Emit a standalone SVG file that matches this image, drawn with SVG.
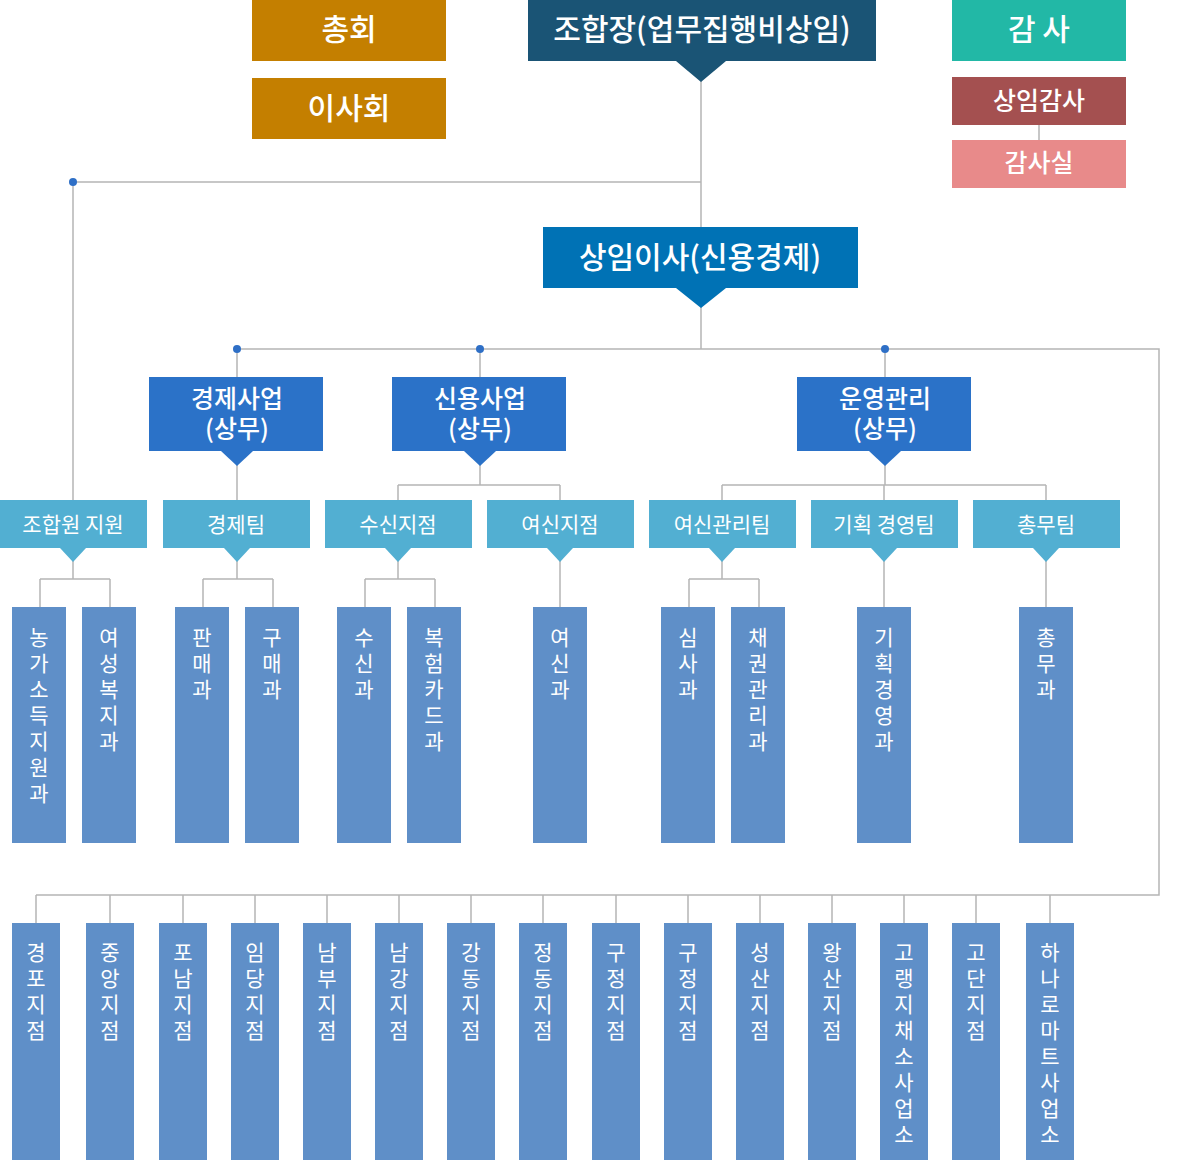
<svg xmlns="http://www.w3.org/2000/svg" width="1200" height="1160" viewBox="0 0 1200 1160">
<style>
text{font-family:"Noto Sans CJK KR","Noto Sans",sans-serif;fill:#fff;text-anchor:middle}
.t1{font-size:30px;font-weight:500}
.t2{font-size:25px;font-weight:500}
.t3{font-size:21px}
.v{font-size:21px}
.ln{stroke:#b5b5b5;stroke-width:1.5;fill:none}
.dot{fill:#2e6fc6}
.sk{fill:#5f8fc8}
.lb{fill:#52afd2}
.mb{fill:#2b72c8}
</style>
<rect width="1200" height="1160" fill="#fff"/>
<g id="connectors">
<path class="ln" d="M701 80V227M73 182H701M73 182V500M701 306V349M237 349H1159V895H36M237 349V377M480 349V377M885 349V377M237 464V500M480 464V485M398 485H560M398 485V500M560 485V500M885 464V485M722 485H1046M722 485V500M884 485V500M1046 485V500
M73 560V579M40 579H110M40 579V607M110 579V607
M237 560V579M203 579H273M203 579V607M273 579V607
M398 560V579M365 579H435M365 579V607M435 579V607
M560 560V607
M722 560V579M689 579H759M689 579V607M759 579V607
M884 560V607M1046 560V607
M36 895V923M110 895V923M183 895V923M255 895V923M327 895V923M399 895V923M471 895V923M543 895V923M616 895V923M688 895V923M760 895V923M832 895V923M904 895V923M976 895V923M1050 895V923M1159 349V895"/>
<circle class="dot" cx="73" cy="182" r="4"/><circle class="dot" cx="237" cy="349" r="4"/><circle class="dot" cx="480" cy="349" r="4"/><circle class="dot" cx="885" cy="349" r="4"/>
<path class="ln" d="M1039 125V140"/>
</g>
<g id="n-chonghoe"><rect x="252" y="0" width="194" height="61" fill="#c47f00"/><text class="t1" x="349" y="40">총회</text></g>
<g id="n-isahoe"><rect x="252" y="78" width="194" height="61" fill="#c47f00"/><text class="t1" x="349" y="119">이사회</text></g>
<g id="n-johapjang"><rect x="528" y="0" width="348" height="61" fill="#1a5475"/><path d="M676 61L701 82L726 61Z" fill="#1a5475"/><text class="t1" x="702" y="40">조합장(업무집행비상임)</text></g>
<g id="n-gamsa"><rect x="952" y="0" width="174" height="61" fill="#22b8a6"/><text class="t1" x="1039" y="40">감 사</text></g>
<g id="n-sangimgamsa"><rect x="952" y="77" width="174" height="48" fill="#a45050"/><text class="t2" x="1039" y="110">상임감사</text></g>
<g id="n-gamsasil"><rect x="952" y="140" width="174" height="48" fill="#e88a8a"/><text class="t2" x="1039" y="172">감사실</text></g>
<g id="n-sangimisa"><rect x="543" y="227" width="315" height="61" fill="#0072b5"/><path d="M676 288L701 308L726 288Z" fill="#0072b5"/><text class="t1" x="700" y="268">상임이사(신용경제)</text></g>
<g id="n-gyeongje"><rect class="mb" x="149" y="377" width="174" height="74"/><path class="mb" d="M221 451L237 466L253 451Z"/><text class="t2" x="237" y="408">경제사업</text><text class="t2" x="237" y="438">(상무)</text></g>
<g id="n-sinyong"><rect class="mb" x="392" y="377" width="174" height="74"/><path class="mb" d="M464 451L480 466L496 451Z"/><text class="t2" x="480" y="408">신용사업</text><text class="t2" x="480" y="438">(상무)</text></g>
<g id="n-unyeong"><rect class="mb" x="797" y="377" width="174" height="74"/><path class="mb" d="M869 451L885 466L901 451Z"/><text class="t2" x="885" y="408">운영관리</text><text class="t2" x="885" y="438">(상무)</text></g>
<g id="n-l1"><rect class="lb" x="0" y="500" width="147" height="48"/><path class="lb" d="M60 548L73 562L86 548Z"/><text class="t3" x="73" y="532">조합원 지원</text></g>
<g id="n-l2"><rect class="lb" x="163" y="500" width="147" height="48"/><path class="lb" d="M224 548L237 562L250 548Z"/><text class="t3" x="236" y="532">경제팀</text></g>
<g id="n-l3"><rect class="lb" x="325" y="500" width="147" height="48"/><path class="lb" d="M385 548L398 562L411 548Z"/><text class="t3" x="398" y="532">수신지점</text></g>
<g id="n-l4"><rect class="lb" x="487" y="500" width="147" height="48"/><path class="lb" d="M547 548L560 562L573 548Z"/><text class="t3" x="560" y="532">여신지점</text></g>
<g id="n-l5"><rect class="lb" x="649" y="500" width="147" height="48"/><path class="lb" d="M709 548L722 562L735 548Z"/><text class="t3" x="722" y="532">여신관리팀</text></g>
<g id="n-l6"><rect class="lb" x="811" y="500" width="147" height="48"/><path class="lb" d="M871 548L884 562L897 548Z"/><text class="t3" x="884" y="532">기획 경영팀</text></g>
<g id="n-l7"><rect class="lb" x="973" y="500" width="147" height="48"/><path class="lb" d="M1033 548L1046 562L1059 548Z"/><text class="t3" x="1046" y="532">총무팀</text></g>
<g id="n-m1"><rect class="sk" x="12" y="607" width="54" height="236"/><text class="v" x="39" y="645"><tspan x="39">농</tspan><tspan x="39" dy="26">가</tspan><tspan x="39" dy="26">소</tspan><tspan x="39" dy="26">득</tspan><tspan x="39" dy="26">지</tspan><tspan x="39" dy="26">원</tspan><tspan x="39" dy="26">과</tspan></text></g>
<g id="n-m2"><rect class="sk" x="82" y="607" width="54" height="236"/><text class="v" x="109" y="645"><tspan x="109">여</tspan><tspan x="109" dy="26">성</tspan><tspan x="109" dy="26">복</tspan><tspan x="109" dy="26">지</tspan><tspan x="109" dy="26">과</tspan></text></g>
<g id="n-m3"><rect class="sk" x="175" y="607" width="54" height="236"/><text class="v" x="202" y="645"><tspan x="202">판</tspan><tspan x="202" dy="26">매</tspan><tspan x="202" dy="26">과</tspan></text></g>
<g id="n-m4"><rect class="sk" x="245" y="607" width="54" height="236"/><text class="v" x="272" y="645"><tspan x="272">구</tspan><tspan x="272" dy="26">매</tspan><tspan x="272" dy="26">과</tspan></text></g>
<g id="n-m5"><rect class="sk" x="337" y="607" width="54" height="236"/><text class="v" x="364" y="645"><tspan x="364">수</tspan><tspan x="364" dy="26">신</tspan><tspan x="364" dy="26">과</tspan></text></g>
<g id="n-m6"><rect class="sk" x="407" y="607" width="54" height="236"/><text class="v" x="434" y="645"><tspan x="434">복</tspan><tspan x="434" dy="26">험</tspan><tspan x="434" dy="26">카</tspan><tspan x="434" dy="26">드</tspan><tspan x="434" dy="26">과</tspan></text></g>
<g id="n-m7"><rect class="sk" x="533" y="607" width="54" height="236"/><text class="v" x="560" y="645"><tspan x="560">여</tspan><tspan x="560" dy="26">신</tspan><tspan x="560" dy="26">과</tspan></text></g>
<g id="n-m8"><rect class="sk" x="661" y="607" width="54" height="236"/><text class="v" x="688" y="645"><tspan x="688">심</tspan><tspan x="688" dy="26">사</tspan><tspan x="688" dy="26">과</tspan></text></g>
<g id="n-m9"><rect class="sk" x="731" y="607" width="54" height="236"/><text class="v" x="758" y="645"><tspan x="758">채</tspan><tspan x="758" dy="26">권</tspan><tspan x="758" dy="26">관</tspan><tspan x="758" dy="26">리</tspan><tspan x="758" dy="26">과</tspan></text></g>
<g id="n-m10"><rect class="sk" x="857" y="607" width="54" height="236"/><text class="v" x="884" y="645"><tspan x="884">기</tspan><tspan x="884" dy="26">획</tspan><tspan x="884" dy="26">경</tspan><tspan x="884" dy="26">영</tspan><tspan x="884" dy="26">과</tspan></text></g>
<g id="n-m11"><rect class="sk" x="1019" y="607" width="54" height="236"/><text class="v" x="1046" y="645"><tspan x="1046">총</tspan><tspan x="1046" dy="26">무</tspan><tspan x="1046" dy="26">과</tspan></text></g>
<g id="n-b1"><rect class="sk" x="12" y="923" width="48" height="237"/><text class="v" x="36" y="960"><tspan x="36">경</tspan><tspan x="36" dy="26">포</tspan><tspan x="36" dy="26">지</tspan><tspan x="36" dy="26">점</tspan></text></g>
<g id="n-b2"><rect class="sk" x="86" y="923" width="48" height="237"/><text class="v" x="110" y="960"><tspan x="110">중</tspan><tspan x="110" dy="26">앙</tspan><tspan x="110" dy="26">지</tspan><tspan x="110" dy="26">점</tspan></text></g>
<g id="n-b3"><rect class="sk" x="159" y="923" width="48" height="237"/><text class="v" x="183" y="960"><tspan x="183">포</tspan><tspan x="183" dy="26">남</tspan><tspan x="183" dy="26">지</tspan><tspan x="183" dy="26">점</tspan></text></g>
<g id="n-b4"><rect class="sk" x="231" y="923" width="48" height="237"/><text class="v" x="255" y="960"><tspan x="255">임</tspan><tspan x="255" dy="26">당</tspan><tspan x="255" dy="26">지</tspan><tspan x="255" dy="26">점</tspan></text></g>
<g id="n-b5"><rect class="sk" x="303" y="923" width="48" height="237"/><text class="v" x="327" y="960"><tspan x="327">남</tspan><tspan x="327" dy="26">부</tspan><tspan x="327" dy="26">지</tspan><tspan x="327" dy="26">점</tspan></text></g>
<g id="n-b6"><rect class="sk" x="375" y="923" width="48" height="237"/><text class="v" x="399" y="960"><tspan x="399">남</tspan><tspan x="399" dy="26">강</tspan><tspan x="399" dy="26">지</tspan><tspan x="399" dy="26">점</tspan></text></g>
<g id="n-b7"><rect class="sk" x="447" y="923" width="48" height="237"/><text class="v" x="471" y="960"><tspan x="471">강</tspan><tspan x="471" dy="26">동</tspan><tspan x="471" dy="26">지</tspan><tspan x="471" dy="26">점</tspan></text></g>
<g id="n-b8"><rect class="sk" x="519" y="923" width="48" height="237"/><text class="v" x="543" y="960"><tspan x="543">정</tspan><tspan x="543" dy="26">동</tspan><tspan x="543" dy="26">지</tspan><tspan x="543" dy="26">점</tspan></text></g>
<g id="n-b9"><rect class="sk" x="592" y="923" width="48" height="237"/><text class="v" x="616" y="960"><tspan x="616">구</tspan><tspan x="616" dy="26">정</tspan><tspan x="616" dy="26">지</tspan><tspan x="616" dy="26">점</tspan></text></g>
<g id="n-b10"><rect class="sk" x="664" y="923" width="48" height="237"/><text class="v" x="688" y="960"><tspan x="688">구</tspan><tspan x="688" dy="26">정</tspan><tspan x="688" dy="26">지</tspan><tspan x="688" dy="26">점</tspan></text></g>
<g id="n-b11"><rect class="sk" x="736" y="923" width="48" height="237"/><text class="v" x="760" y="960"><tspan x="760">성</tspan><tspan x="760" dy="26">산</tspan><tspan x="760" dy="26">지</tspan><tspan x="760" dy="26">점</tspan></text></g>
<g id="n-b12"><rect class="sk" x="808" y="923" width="48" height="237"/><text class="v" x="832" y="960"><tspan x="832">왕</tspan><tspan x="832" dy="26">산</tspan><tspan x="832" dy="26">지</tspan><tspan x="832" dy="26">점</tspan></text></g>
<g id="n-b13"><rect class="sk" x="880" y="923" width="48" height="237"/><text class="v" x="904" y="960"><tspan x="904">고</tspan><tspan x="904" dy="26">랭</tspan><tspan x="904" dy="26">지</tspan><tspan x="904" dy="26">채</tspan><tspan x="904" dy="26">소</tspan><tspan x="904" dy="26">사</tspan><tspan x="904" dy="26">업</tspan><tspan x="904" dy="26">소</tspan></text></g>
<g id="n-b14"><rect class="sk" x="952" y="923" width="48" height="237"/><text class="v" x="976" y="960"><tspan x="976">고</tspan><tspan x="976" dy="26">단</tspan><tspan x="976" dy="26">지</tspan><tspan x="976" dy="26">점</tspan></text></g>
<g id="n-b15"><rect class="sk" x="1026" y="923" width="48" height="237"/><text class="v" x="1050" y="960"><tspan x="1050">하</tspan><tspan x="1050" dy="26">나</tspan><tspan x="1050" dy="26">로</tspan><tspan x="1050" dy="26">마</tspan><tspan x="1050" dy="26">트</tspan><tspan x="1050" dy="26">사</tspan><tspan x="1050" dy="26">업</tspan><tspan x="1050" dy="26">소</tspan></text></g>
</svg>
